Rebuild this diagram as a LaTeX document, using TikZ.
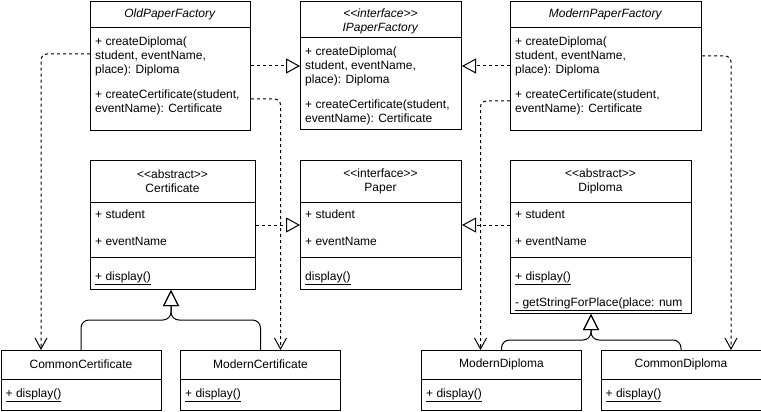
\documentclass[tikz,border=0pt]{standalone}
\usepackage{fontspec}
\setmainfont{Liberation Sans}
\usetikzlibrary{arrows.meta}

\begin{document}
\begin{tikzpicture}[x=1pt,y=-1pt,
	font=\fontsize{12}{14}\selectfont,
	umlbox/.style={draw,line width=1pt,anchor=north west,inner sep=0pt},
	title/.style={inner sep=0pt,align=center},
	txt/.style={inner sep=0pt,align=left,anchor=base west},
	sep/.style={line width=1pt},
	real/.style={line width=1pt,dash pattern=on 3pt off 3pt,-{Triangle[open,length=14pt,width=15pt]}},
	dep/.style={line width=1pt,dash pattern=on 3pt off 3pt,rounded corners=6pt,-{Straight Barb[length=11pt,width=12pt]}},
	inh/.style={line width=1pt,rounded corners=8pt,-{Triangle[open,length=16pt,width=16pt]}}]
	
	\useasboundingbox (0,0) rectangle (761,412);
	
	% Factories
	\node[umlbox,minimum width=160pt,minimum height=129pt] (old) at (90,1) {};
	\node[umlbox,minimum width=161pt,minimum height=128pt] (ipf) at (300,1) {};
	\node[umlbox,minimum width=191pt,minimum height=129pt] (mpf) at (510,1) {};
	\draw[sep] (old.north west) ++(0,27) -- ++(160,0);
	\draw[sep] (ipf.north west) ++(0,37) -- ++(161,0);
	\draw[sep] (mpf.north west) ++(0,27) -- ++(191,0);
	\node[title] (oldT) at (170,14) {\textit{OldPaperFactory}};
	\node[title] (ipfT) at (380.5,21) {\textit{<{}<interface>{}>}\\\textit{IPaperFactory}};
	\node[title] (mpfT) at (605.5,14) {\textit{ModernPaperFactory}};
	% (base of a multi-line text = its last line)
	\node[txt] (oldD) at (95,74) {+ createDiploma(\\student, eventName,\\place): Diploma};
	\node[txt] (oldC) at (95,113) {+ createCertificate(student,\\eventName): Certificate};
	\node[txt] (ipfD) at (305,84) {+ createDiploma(\\student, eventName,\\place): Diploma};
	\node[txt] (ipfC) at (305,122) {+ createCertificate(student,\\eventName): Certificate};
	\node[txt] (mpfD) at (515,74) {+ createDiploma(\\student, eventName,\\place): Diploma};
	\node[txt] (mpfC) at (515,113) {+ createCertificate(student,\\eventName): Certificate};
	
	% Papers
	\node[umlbox,minimum width=165pt,minimum height=129pt] (cert) at (90,160) {};
	\node[umlbox,minimum width=161pt,minimum height=129pt] (paper) at (300,160) {};
	\node[umlbox,minimum width=181pt,minimum height=153pt] (dipl) at (510,160) {};
	\foreach \b/\w in {cert/165,paper/161,dipl/181}{
		\draw[sep] (\b.north west) ++(0,42) -- ++(\w,0);
		\draw[sep] (\b.north west) ++(0,97) -- ++(\w,0);
	}
	\node[title] (certT) at (172.5,181) {<{}<abstract>{}>\\Certificate};
	\node[title] (paperT) at (380.5,181) {<{}<interface>{}>\\Paper};
	\node[title] (diplT) at (600.5,181) {<{}<abstract>{}>\\Diploma};
	\foreach \b/\x in {cert/95,paper/305,dipl/515}{
		\node[txt] (\b S) at (\x,218) {+ student};
		\node[txt] (\b E) at (\x,245) {+ eventName};
	}
	\node[txt] (certM) at (95,280) {\underline{+ display()}};
	\node[txt] (paperM) at (305,280) {\underline{display()}};
	\node[txt] (diplM) at (515,280) {\underline{+ display()}};
	\node[txt] (diplP) at (515,306) {\underline{- getStringForPlace(place: num}};
	
	% Concrete papers
	\foreach \b/\x/\t in {ccert/0.5/CommonCertificate,mcert/180/ModernCertificate,
		mdipl/421/ModernDiploma,cdipl/600.5/CommonDiploma}{
		\node[umlbox,minimum width=160pt,minimum height=60pt] (\b) at (\x,350) {};
		\draw[sep] (\b.north west) ++(0,29) -- ++(160,0);
		\node[title] (\b T) at ([yshift=-14pt]\b.north) {\t};
		\node[txt] (\b M) at ([xshift=5pt,yshift=-47pt]\b.north west) {\underline{+ display()}};
	}
	
	% Realization
	\draw[real] (old.east) -- (old.east -| ipf.west);
	\draw[real] (mpf.west) -- (mpf.west -| ipf.east);
	\draw[real] (cert.east) -- (cert.east -| paper.west);
	\draw[real] (cert.east -| dipl.west) -- (cert.east -| paper.east);
	
	% Inheritance
	\draw[inh] (ccert.north) -- ++(0,-30) -| ([xshift=-2pt]cert.south);
	\draw[inh] (mcert.north) -- ++(0,-30) -| ([xshift=-2pt]cert.south);
	\draw[inh] (mdipl.north) -- ++(0,-10) -| ([xshift=-10pt]dipl.south);
	\draw[inh] (cdipl.north) -- ++(0,-10) -| ([xshift=-10pt]dipl.south);
	
	% Dependencies
	\draw[dep] ([yshift=12pt]old.west) -| ([xshift=-40pt]ccert.north);
	\draw[dep] ([yshift=-33pt]old.east) -| ([xshift=20pt]mcert.north);
	\draw[dep] ([yshift=-35pt]mpf.west) -| ([xshift=-21pt]mdipl.north);
	\draw[dep] ([yshift=10pt]mpf.east) -| ([xshift=50pt]cdipl.north);
	
\end{tikzpicture}
\end{document}
